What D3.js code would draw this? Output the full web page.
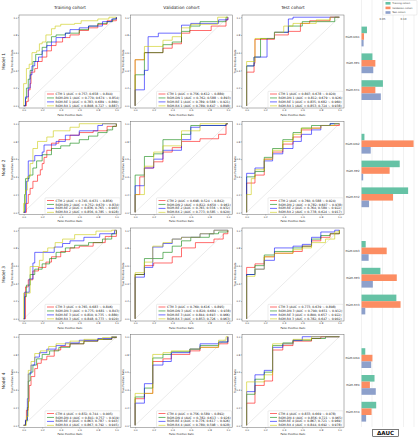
<!DOCTYPE html>
<html><head><meta charset="utf-8">
<script src="https://cdn.jsdelivr.net/npm/d3@7"></script>
<style>body{margin:0;background:#fff} svg{display:block}</style>
</head><body>
<svg id="c" width="419" height="440"></svg>
<script>
// ---------- categories ----------
const models = ["Model 1", "Model 2", "Model 3", "Model 4"];
const cohorts = ["Training cohort", "Validation cohort", "Test cohort"];
const methods = ["CTM", "RGM-DN", "RGM-RE", "RGM-RX"];
const methodColors = ["#ff0000", "#008000", "#0000ff", "#c8c800"];
const rocTicks = [0, 0.2, 0.4, 0.6, 0.8, 1.0];

// ---------- legend AUC texts: [cohort][method] ----------
const aucModel1 = [
  ["0.757; 0.658 ~ 0.844", "0.770; 0.674 ~ 0.854", "0.783; 0.689 ~ 0.860", "0.808; 0.727 ~ 0.887"],
  ["0.756; 0.612 ~ 0.880", "0.762; 0.588 ~ 0.893", "0.789; 0.588 ~ 0.921", "0.789; 0.647 ~ 0.898"],
  ["0.807; 0.678 ~ 0.920", "0.812; 0.679 ~ 0.926", "0.835; 0.682 ~ 0.960", "0.853; 0.724 ~ 0.938"]];
const aucModel2 = [
  ["0.745; 0.631 ~ 0.856", "0.752; 0.670 ~ 0.834", "0.836; 0.765 ~ 0.903", "0.856; 0.785 ~ 0.928"],
  ["0.698; 0.524 ~ 0.842", "0.822; 0.650 ~ 0.961", "0.765; 0.556 ~ 0.932", "0.773; 0.585 ~ 0.920"],
  ["0.760; 0.588 ~ 0.924", "0.782; 0.607 ~ 0.938", "0.764; 0.580 ~ 0.922", "0.778; 0.624 ~ 0.917"]];
const aucModel3 = [
  ["0.765; 0.683 ~ 0.846", "0.775; 0.681 ~ 0.843", "0.810; 0.735 ~ 0.880", "0.848; 0.773 ~ 0.920"],
  ["0.760; 0.616 ~ 0.895", "0.820; 0.684 ~ 0.938", "0.844; 0.693 ~ 0.966", "0.853; 0.726 ~ 0.963"],
  ["0.773; 0.639 ~ 0.898", "0.790; 0.651 ~ 0.912", "0.800; 0.657 ~ 0.922", "0.782; 0.647 ~ 0.902"]];
const aucModel4 = [
  ["0.832; 0.744 ~ 0.905", "0.841; 0.757 ~ 0.919", "0.863; 0.787 ~ 0.943", "0.867; 0.792 ~ 0.945"],
  ["0.756; 0.589 ~ 0.892", "0.782; 0.613 ~ 0.926", "0.776; 0.617 ~ 0.926", "0.780; 0.598 ~ 0.928"],
  ["0.833; 0.669 ~ 0.978", "0.856; 0.721 ~ 0.965", "0.867; 0.721 ~ 0.969", "0.844; 0.692 ~ 0.978"]];

// ---------- ROC curves [CTM, RGM-DN, RGM-RE, RGM-RX], points [fpr, tpr] ----------
const rocM1Train = [
  [[0,0],[0.03,0.05],[0.05,0.18],[0.07,0.25],[0.08,0.38],[0.12,0.42],[0.15,0.5],[0.2,0.55],[0.25,0.62],[0.3,0.68],[0.35,0.72],[0.42,0.77],[0.5,0.8],[0.6,0.85],[0.7,0.88],[0.8,0.92],[0.9,0.96],[1,1]],
  [[0,0],[0.02,0.08],[0.03,0.2],[0.05,0.3],[0.07,0.4],[0.1,0.5],[0.13,0.58],[0.2,0.66],[0.25,0.72],[0.3,0.78],[0.35,0.8],[0.45,0.82],[0.6,0.86],[0.7,0.9],[0.8,0.93],[0.9,0.95],[0.96,0.98],[1,1]],
  [[0,0],[0.02,0.1],[0.05,0.2],[0.07,0.35],[0.09,0.45],[0.12,0.5],[0.16,0.55],[0.2,0.62],[0.25,0.68],[0.3,0.72],[0.35,0.77],[0.45,0.82],[0.5,0.86],[0.6,0.88],[0.7,0.9],[0.85,0.95],[0.95,0.98],[1,1]],
  [[0,0],[0,0.25],[0.03,0.42],[0.06,0.47],[0.09,0.6],[0.14,0.62],[0.17,0.7],[0.2,0.72],[0.24,0.8],[0.3,0.87],[0.34,0.9],[0.4,0.92],[0.55,0.93],[0.62,0.96],[0.8,0.98],[0.92,1],[1,1]]];
const rocM1Val = [
  [[0,0],[0,0.52],[0.1,0.6],[0.3,0.65],[0.4,0.7],[0.5,0.82],[0.59,0.85],[0.82,0.9],[0.98,0.97],[1,1]],
  [[0,0],[0,0.35],[0.1,0.6],[0.3,0.69],[0.4,0.72],[0.5,0.84],[0.59,0.9],[0.7,0.95],[0.98,1],[1,1]],
  [[0,0],[0,0.18],[0.1,0.4],[0.14,0.78],[0.25,0.82],[0.5,0.91],[0.6,0.93],[0.9,0.97],[1,1]],
  [[0,0],[0,0.52],[0.1,0.67],[0.3,0.74],[0.4,0.78],[0.5,0.88],[0.6,0.92],[0.89,1],[1,1]]];
const rocM1Test = [
  [[0,0],[0,0.38],[0.08,0.48],[0.09,0.75],[0.3,0.8],[0.45,0.84],[0.58,0.93],[0.68,0.96],[0.9,1],[1,1]],
  [[0,0],[0,0.45],[0.08,0.55],[0.15,0.76],[0.3,0.83],[0.45,0.9],[0.6,0.95],[0.95,1],[1,1]],
  [[0,0],[0,0.45],[0.08,0.55],[0.22,0.76],[0.3,0.83],[0.45,0.98],[0.5,1],[1,1]],
  [[0,0],[0,0.5],[0.09,0.76],[0.3,0.83],[0.4,0.9],[0.5,0.93],[0.75,0.97],[0.9,1],[1,1]]];

const rocM2Train = [
  [[0,0],[0.03,0.1],[0.05,0.2],[0.07,0.27],[0.1,0.35],[0.15,0.42],[0.18,0.48],[0.2,0.55],[0.22,0.62],[0.25,0.7],[0.3,0.78],[0.38,0.82],[0.5,0.87],[0.6,0.9],[0.75,0.92],[0.9,0.97],[1,1]],
  [[0,0],[0.01,0.2],[0.02,0.38],[0.06,0.42],[0.1,0.5],[0.14,0.58],[0.2,0.65],[0.3,0.72],[0.4,0.75],[0.5,0.78],[0.6,0.82],[0.7,0.86],[0.8,0.9],[0.9,0.93],[0.96,0.97],[1,1]],
  [[0,0],[0.02,0.1],[0.03,0.35],[0.05,0.58],[0.12,0.64],[0.2,0.68],[0.22,0.76],[0.35,0.8],[0.45,0.87],[0.6,0.92],[0.8,0.98],[0.85,1],[1,1]],
  [[0,0],[0,0.1],[0.02,0.25],[0.04,0.4],[0.07,0.55],[0.1,0.72],[0.15,0.8],[0.25,0.85],[0.32,0.92],[0.5,0.96],[0.6,1],[1,1]]];
const rocM2Val = [
  [[0,0],[0,0.2],[0.05,0.4],[0.1,0.5],[0.2,0.57],[0.3,0.68],[0.4,0.73],[0.5,0.8],[0.7,0.83],[0.9,0.88],[0.98,1],[1,1]],
  [[0,0],[0,0.42],[0.1,0.63],[0.2,0.66],[0.3,0.82],[0.5,0.88],[0.6,0.98],[0.98,1],[1,1]],
  [[0,0],[0,0.3],[0.1,0.5],[0.2,0.6],[0.3,0.7],[0.5,0.82],[0.6,0.96],[0.7,0.98],[0.98,1],[1,1]],
  [[0,0],[0,0.2],[0.1,0.52],[0.2,0.68],[0.3,0.75],[0.5,0.92],[0.7,1],[1,1]]];
const rocM2Test = [
  [[0,0],[0,0.33],[0.09,0.42],[0.19,0.6],[0.28,0.68],[0.39,0.77],[0.5,0.85],[0.59,0.93],[0.7,0.95],[0.8,0.98],[1,1]],
  [[0,0],[0,0.4],[0.09,0.46],[0.19,0.62],[0.28,0.72],[0.39,0.82],[0.5,0.9],[0.59,0.95],[0.7,0.98],[0.9,1],[1,1]],
  [[0,0],[0,0.44],[0.09,0.5],[0.19,0.58],[0.28,0.66],[0.39,0.72],[0.5,0.8],[0.59,0.88],[0.7,0.93],[0.8,0.98],[0.9,1],[1,1]],
  [[0,0],[0,0.2],[0.05,0.38],[0.09,0.48],[0.19,0.6],[0.28,0.7],[0.39,0.8],[0.5,0.88],[0.59,0.95],[0.8,0.98],[0.95,1],[1,1]]];

const rocM3Train = [
  [[0,0],[0.02,0.36],[0.05,0.44],[0.1,0.54],[0.16,0.58],[0.24,0.64],[0.3,0.7],[0.4,0.76],[0.5,0.8],[0.6,0.82],[0.75,0.86],[0.88,0.93],[1,1]],
  [[0,0],[0.01,0.25],[0.03,0.38],[0.07,0.5],[0.12,0.56],[0.2,0.62],[0.28,0.68],[0.35,0.75],[0.45,0.8],[0.55,0.83],[0.7,0.86],[0.85,0.9],[0.95,0.96],[1,1]],
  [[0,0],[0.01,0.3],[0.06,0.45],[0.1,0.63],[0.12,0.75],[0.33,0.81],[0.42,0.85],[0.5,0.88],[0.65,0.92],[0.82,0.96],[0.98,1],[1,1]],
  [[0,0],[0,0.29],[0.07,0.59],[0.17,0.66],[0.21,0.76],[0.26,0.8],[0.34,0.86],[0.42,0.9],[0.55,0.95],[0.78,0.99],[0.95,1],[1,1]]];
const rocM3Val = [
  [[0,0],[0,0.5],[0.1,0.6],[0.2,0.63],[0.4,0.7],[0.5,0.8],[0.65,0.86],[0.85,0.9],[0.95,0.96],[1,1]],
  [[0,0],[0,0.5],[0.1,0.68],[0.3,0.75],[0.4,0.82],[0.5,0.88],[0.6,0.92],[0.8,0.96],[0.9,0.98],[1,1]],
  [[0,0],[0,0.47],[0.1,0.58],[0.19,0.81],[0.3,0.85],[0.4,0.9],[0.5,0.92],[0.7,0.96],[0.85,1],[1,1]],
  [[0,0],[0,0.52],[0.1,0.64],[0.19,0.82],[0.3,0.86],[0.4,0.9],[0.5,0.92],[0.7,0.96],[0.85,1],[1,1]]];
const rocM3Test = [
  [[0,0],[0,0.58],[0.09,0.62],[0.19,0.7],[0.3,0.74],[0.5,0.76],[0.6,0.82],[0.7,0.88],[0.8,0.92],[0.9,0.96],[1,1]],
  [[0,0],[0,0.5],[0.09,0.6],[0.19,0.72],[0.3,0.76],[0.5,0.8],[0.6,0.82],[0.7,0.9],[0.8,0.94],[0.9,0.96],[1,1]],
  [[0,0],[0,0.5],[0.09,0.56],[0.19,0.66],[0.3,0.8],[0.5,0.82],[0.6,0.84],[0.7,0.92],[0.8,0.98],[0.95,1],[1,1]],
  [[0,0],[0,0.48],[0.09,0.56],[0.19,0.7],[0.3,0.74],[0.5,0.78],[0.6,0.8],[0.7,0.86],[0.85,0.9],[0.95,0.98],[1,1]]];

const rocM4Train = [
  [[0,0],[0.02,0.05],[0.03,0.17],[0.05,0.27],[0.06,0.45],[0.08,0.55],[0.12,0.64],[0.15,0.7],[0.19,0.74],[0.25,0.78],[0.33,0.85],[0.4,0.89],[0.5,0.92],[0.65,0.95],[0.8,0.97],[0.95,0.99],[1,1]],
  [[0,0],[0.02,0.05],[0.04,0.2],[0.05,0.5],[0.07,0.6],[0.1,0.68],[0.14,0.75],[0.2,0.8],[0.28,0.84],[0.38,0.88],[0.5,0.92],[0.65,0.95],[0.8,0.97],[0.95,0.99],[1,1]],
  [[0,0],[0.02,0.06],[0.04,0.3],[0.05,0.58],[0.08,0.68],[0.12,0.77],[0.17,0.82],[0.25,0.86],[0.35,0.9],[0.45,0.93],[0.6,0.96],[0.8,0.98],[0.95,1],[1,1]],
  [[0,0],[0.03,0.1],[0.05,0.62],[0.08,0.72],[0.12,0.81],[0.18,0.84],[0.27,0.89],[0.35,0.92],[0.5,0.95],[0.65,0.97],[0.85,0.99],[0.95,1],[1,1]]];
const rocM4Val = [
  [[0,0],[0,0.3],[0.1,0.36],[0.19,0.72],[0.3,0.75],[0.39,0.8],[0.59,0.84],[0.7,0.88],[0.9,0.92],[1,1]],
  [[0,0],[0,0.32],[0.1,0.42],[0.19,0.76],[0.3,0.8],[0.39,0.83],[0.59,0.86],[0.7,0.9],[0.9,0.94],[1,1]],
  [[0,0],[0,0.25],[0.1,0.47],[0.19,0.68],[0.3,0.72],[0.39,0.82],[0.59,0.86],[0.7,0.92],[0.9,0.94],[1,1]],
  [[0,0],[0,0.36],[0.19,0.8],[0.3,0.82],[0.39,0.84],[0.59,0.86],[0.7,0.88],[0.9,0.96],[0.98,1],[1,1]]];
const rocM4Test = [
  [[0,0],[0,0.25],[0.09,0.45],[0.19,0.5],[0.28,0.85],[0.39,0.9],[0.5,0.95],[0.7,0.98],[0.8,1],[1,1]],
  [[0,0],[0,0.35],[0.09,0.52],[0.19,0.6],[0.28,0.9],[0.39,0.93],[0.5,0.96],[0.7,0.98],[0.85,1],[1,1]],
  [[0,0],[0,0.38],[0.09,0.57],[0.19,0.62],[0.28,0.88],[0.39,0.92],[0.5,0.96],[0.6,1],[1,1]],
  [[0,0],[0,0.49],[0.19,0.57],[0.28,0.92],[0.5,0.97],[0.7,1],[1,1]]];

// ---------- ΔAUC bar chart ----------
const barCats = ["RGM-DN1","RGM-RE1","RGM-RX1","RGM-DN2","RGM-RE2","RGM-RX2",
                 "RGM-DN3","RGM-RE3","RGM-RX3","RGM-DN4","RGM-RE4","RGM-RX4"];
const deltaTrain = [0.013, 0.026, 0.051, 0.007, 0.091, 0.111, 0.010, 0.045, 0.083, 0.009, 0.031, 0.035];
const deltaVal   = [0.006, 0.033, 0.033, 0.124, 0.067, 0.075, 0.060, 0.084, 0.093, 0.026, 0.020, 0.024];
const deltaTest  = [0.005, 0.028, 0.046, 0.022, 0.004, 0.018, 0.017, 0.027, 0.009, 0.023, 0.034, 0.011];
const barSeries = ["Training cohort", "Validation cohort", "Test cohort"];
const barColors = ["#66c2a5", "#fc8d62", "#8da0cb"];
const barTicks = [0.05, 0.10];
const barGrid = [0, 0.025, 0.05, 0.075, 0.1, 0.125];

const rocData = [
  [rocM1Train, rocM1Val, rocM1Test],
  [rocM2Train, rocM2Val, rocM2Test],
  [rocM3Train, rocM3Val, rocM3Test],
  [rocM4Train, rocM4Val, rocM4Test]];
const aucData = [aucModel1, aucModel2, aucModel3, aucModel4];

// ---------- layout ----------
const svg = d3.select("#c");
const FONT = "DejaVu Sans, sans-serif";
const colLeft = [19, 130.5, 242];
const rowTop = [15, 121.5, 228, 334.5];
const PW = 102, PH = 93;

cohorts.forEach((c, ci) => {
  svg.append("text").attr("x", colLeft[ci] + PW / 2).attr("y", 8.6)
    .attr("text-anchor", "middle").attr("font-family", FONT).attr("font-size", 4.3)
    .attr("fill", "#222").text(c);
});
models.forEach((m, ri) => {
  const cy = rowTop[ri] + PH / 2;
  svg.append("text").attr("transform", `translate(5.2,${cy}) rotate(-90)`)
    .attr("text-anchor", "middle").attr("font-family", FONT).attr("font-size", 4.3)
    .attr("fill", "#222").text(m);
});

const line = (x, y) => d3.line().x(d => x(d[0])).y(d => y(d[1])).curve(d3.curveStepAfter);

rocData.forEach((row, ri) => {
  row.forEach((curves, ci) => {
    const left = colLeft[ci], top = rowTop[ri];
    const x = d3.scaleLinear().domain([-0.05, 1.05]).range([left, left + PW]);
    const y = d3.scaleLinear().domain([-0.025, 1.025]).range([top + PH, top]);
    const g = svg.append("g");
    g.append("rect").attr("x", left).attr("y", top).attr("width", PW).attr("height", PH)
      .attr("fill", "#fff").attr("stroke", "#6a6a6a").attr("stroke-width", 0.5);
    g.append("line").attr("x1", x(0)).attr("y1", y(0)).attr("x2", x(1)).attr("y2", y(1))
      .attr("stroke", "#d6d6d6").attr("stroke-width", 0.5);
    curves.forEach((pts, k) => {
      g.append("path").attr("d", line(x, y)(pts)).attr("fill", "none")
        .attr("stroke", methodColors[k]).attr("stroke-opacity", 0.6).attr("stroke-width", 0.95);
    });
    // axes
    const ax = g.append("g").attr("transform", `translate(0,${top + PH})`)
      .call(d3.axisBottom(x).tickValues(rocTicks).tickSize(1).tickPadding(0.6).tickFormat(d3.format(".1f")));
    const ay = g.append("g").attr("transform", `translate(${left},0)`)
      .call(d3.axisLeft(y).tickValues(rocTicks).tickSize(1).tickPadding(0.6).tickFormat(d3.format(".1f")));
    [ax, ay].forEach(a => {
      a.select(".domain").remove();
      a.selectAll("line").attr("stroke", "#555").attr("stroke-width", 0.4);
      a.selectAll("text").attr("font-family", FONT).attr("font-size", 2.5).attr("fill", "#333");
    });
    g.append("text").attr("x", left + PW / 2).attr("y", top + PH + 7.6)
      .attr("text-anchor", "middle").attr("font-family", FONT).attr("font-size", 2.7)
      .attr("fill", "#222").text("False Positive Rate");
    g.append("text").attr("transform", `translate(${left - 6.2},${top + PH / 2}) rotate(-90)`)
      .attr("text-anchor", "middle").attr("font-family", FONT).attr("font-size", 2.7)
      .attr("fill", "#222").text("True Positive Rate");
    // legend
    const lg = g.append("g");
    lg.append("rect").attr("x", left + 26).attr("y", top + 76.3).attr("width", PW - 26.8).attr("height", 16.2)
      .attr("rx", 0.8).attr("fill", "#fff").attr("fill-opacity", 0.85)
      .attr("stroke", "#cfcfcf").attr("stroke-width", 0.4);
    methods.forEach((mth, k) => {
      const ly = top + 79 + k * 3.95;
      lg.append("line").attr("x1", left + 28).attr("x2", left + 35).attr("y1", ly).attr("y2", ly)
        .attr("stroke", methodColors[k]).attr("stroke-opacity", 0.6).attr("stroke-width", 0.95);
      lg.append("text").attr("x", left + 36.5).attr("y", ly).attr("dy", "0.35em")
        .attr("font-family", FONT).attr("font-size", 3.1).attr("fill", "#222")
        .text(`${mth} ${ri + 1} (AUC = ${aucData[ri][ci][k]})`);
    });
  });
});

// ---------- bar panel ----------
const bx = d3.scaleLinear().domain([0, 0.1]).range([361.5, 403.5]);
const slots = d3.scaleBand().domain(d3.range(15)).range([23.1, 425.1]);
const slotOf = i => Math.floor(i / 3) * 4 + (i % 3);
const BH = 6.6;
const bg = svg.append("g");
bg.selectAll("line.grid").data(barGrid).join("line").attr("class", "grid")
  .attr("x1", d => bx(d)).attr("x2", d => bx(d)).attr("y1", 0).attr("y2", 427)
  .attr("stroke", "#e3e3e3").attr("stroke-width", 0.5);
bg.selectAll("text.tick").data(barTicks).join("text").attr("class", "tick")
  .attr("x", d => bx(d)).attr("y", 19.5).attr("text-anchor", "middle")
  .attr("font-family", FONT).attr("font-size", 2.7).attr("fill", "#444")
  .text(d => d3.format(".2f")(d));
[deltaTrain, deltaVal, deltaTest].forEach((vals, s) => {
  bg.selectAll(null).data(vals).join("rect")
    .attr("x", bx(0)).attr("width", d => bx(d) - bx(0))
    .attr("y", (d, i) => slots(slotOf(i)) + slots.bandwidth() / 2 - 1.5 * BH + s * BH)
    .attr("height", BH).attr("fill", barColors[s]);
});
bg.selectAll("text.cat").data(barCats).join("text").attr("class", "cat")
  .attr("x", 359.6).attr("y", (d, i) => slots(slotOf(i)) + slots.bandwidth() / 2)
  .attr("dy", "0.35em").attr("text-anchor", "end")
  .attr("font-family", FONT).attr("font-size", 2.9).attr("fill", "#333").text(d => d);
// legend
bg.append("rect").attr("x", 383).attr("y", 0.5).attr("width", 34).attr("height", 14.5).attr("rx", 0.8)
  .attr("fill", "#fff").attr("stroke", "#d0d0d0").attr("stroke-width", 0.4);
barSeries.forEach((s, i) => {
  const ly = 3.3 + i * 4.6;
  bg.append("rect").attr("x", 385.5).attr("y", ly - 1.3).attr("width", 5).attr("height", 2.6)
    .attr("fill", barColors[i]);
  bg.append("text").attr("x", 392.3).attr("y", ly).attr("dy", "0.35em")
    .attr("font-family", FONT).attr("font-size", 2.4).attr("fill", "#333").text(s);
});
// ΔAUC label
bg.append("rect").attr("x", 372.7).attr("y", 429.3).attr("width", 25.6).attr("height", 7)
  .attr("fill", "#fff").attr("stroke", "#222").attr("stroke-width", 0.6);
bg.append("text").attr("x", 385.5).attr("y", 432.9).attr("dy", "0.35em").attr("text-anchor", "middle")
  .attr("font-family", FONT).attr("font-weight", "bold").attr("font-size", 5.6).attr("fill", "#111")
  .text("ΔAUC");
</script>
</body></html>
